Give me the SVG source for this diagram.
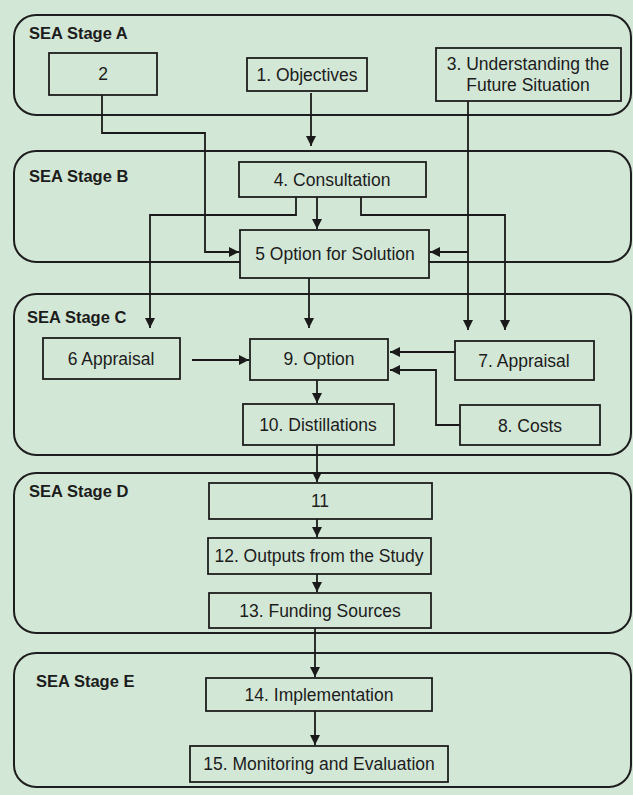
<svg xmlns="http://www.w3.org/2000/svg" width="633" height="795" viewBox="0 0 633 795">
<defs>
<style>
.stage{fill:none;stroke:#1e1e1e;stroke-width:2}
.box{fill:#d3e7d6;stroke:#1e1e1e;stroke-width:1.8}
.lbl{font-family:"Liberation Sans",Arial,sans-serif;font-weight:bold;font-size:16.5px;fill:#1c1c1c}
.t{font-family:"Liberation Sans",Arial,sans-serif;font-size:17.5px;fill:#1c1c1c;text-anchor:middle}
.c{fill:none;stroke:#1a1a1a;stroke-width:1.8}
</style>
<marker id="ah" viewBox="0 0 10 10" refX="10" refY="5" markerWidth="10" markerHeight="10" markerUnits="userSpaceOnUse" orient="auto">
<path d="M0,0 L10,5 L0,10 z" fill="#1a1a1a"/>
</marker>
</defs>
<rect width="633" height="795" fill="#d3e7d6"/>
<g id="stages">
<g id="stageA"><rect class="stage" x="14" y="15" width="617" height="100" rx="22"/><text class="lbl" x="29" y="39">SEA Stage A</text></g>
<g id="stageB"><rect class="stage" x="14" y="151" width="617" height="111" rx="22"/><text class="lbl" x="29" y="182">SEA Stage B</text></g>
<g id="stageC"><rect class="stage" x="14" y="294" width="617" height="161" rx="22"/><text class="lbl" x="27" y="323">SEA Stage C</text></g>
<g id="stageD"><rect class="stage" x="14" y="473" width="617" height="160" rx="22"/><text class="lbl" x="29" y="497">SEA Stage D</text></g>
<g id="stageE"><rect class="stage" x="14" y="653" width="617" height="134" rx="22"/><text class="lbl" x="36" y="687">SEA Stage E</text></g>
</g>
<g id="connectors">
<path class="c" d="M102,95 V133 H205 V252 H239" marker-end="url(#ah)"/>
<path class="c" d="M311,93 V146" marker-end="url(#ah)"/>
<path class="c" d="M468,101 V330" marker-end="url(#ah)"/>
<path class="c" d="M468,252 H430" marker-end="url(#ah)"/>
<path class="c" d="M296,197 V215 H150 V328" marker-end="url(#ah)"/>
<path class="c" d="M361,197 V215 H505 V330" marker-end="url(#ah)"/>
<path class="c" d="M317,197 V229" marker-end="url(#ah)"/>
<path class="c" d="M309,278 V328" marker-end="url(#ah)"/>
<path class="c" d="M192,360 H249" marker-end="url(#ah)"/>
<path class="c" d="M455,352 H390" marker-end="url(#ah)"/>
<path class="c" d="M460,425 H436 V370 H390" marker-end="url(#ah)"/>
<path class="c" d="M317,380 V403" marker-end="url(#ah)"/>
<path class="c" d="M317,445 V482" marker-end="url(#ah)"/>
<path class="c" d="M317,519 V537" marker-end="url(#ah)"/>
<path class="c" d="M317,574 V592" marker-end="url(#ah)"/>
<path class="c" d="M315,628 V677" marker-end="url(#ah)"/>
<path class="c" d="M315,711 V745" marker-end="url(#ah)"/>
</g>
<g id="n2"><rect class="box" x="49" y="53" width="108" height="42"/><text class="t" x="103" y="80">2</text></g>
<g id="n1"><rect class="box" x="247" y="58" width="120" height="33"/><text class="t" x="307" y="81">1. Objectives</text></g>
<g id="n3"><rect class="box" x="436" y="48" width="185" height="53"/><text class="t" x="528" y="70">3. Understanding the</text><text class="t" x="528" y="91">Future Situation</text></g>
<g id="n4"><rect class="box" x="239" y="162" width="187" height="35"/><text class="t" x="332" y="186">4. Consultation</text></g>
<g id="n5"><rect class="box" x="240" y="230" width="189" height="48"/><text class="t" x="335" y="260">5 Option for Solution</text></g>
<g id="n6"><rect class="box" x="43" y="338" width="137" height="41"/><text class="t" x="111" y="365">6 Appraisal</text></g>
<g id="n9"><rect class="box" x="250" y="339" width="138" height="41"/><text class="t" x="319" y="365">9. Option</text></g>
<g id="n7"><rect class="box" x="455" y="341" width="139" height="39"/><text class="t" x="524" y="367">7. Appraisal</text></g>
<g id="n10"><rect class="box" x="243" y="404" width="151" height="41"/><text class="t" x="318" y="431">10. Distillations</text></g>
<g id="n8"><rect class="box" x="460" y="405" width="140" height="40"/><text class="t" x="530" y="432">8. Costs</text></g>
<g id="n11"><rect class="box" x="209" y="483" width="223" height="36"/><text class="t" x="320" y="507">11</text></g>
<g id="n12"><rect class="box" x="208" y="538" width="223" height="36"/><text class="t" x="319" y="562">12. Outputs from the Study</text></g>
<g id="n13"><rect class="box" x="209" y="593" width="222" height="35"/><text class="t" x="320" y="617">13. Funding Sources</text></g>
<g id="n14"><rect class="box" x="206" y="678" width="226" height="33"/><text class="t" x="319" y="701">14. Implementation</text></g>
<g id="n15"><rect class="box" x="190" y="746" width="258" height="36"/><text class="t" x="319" y="770">15. Monitoring and Evaluation</text></g>
</svg>
